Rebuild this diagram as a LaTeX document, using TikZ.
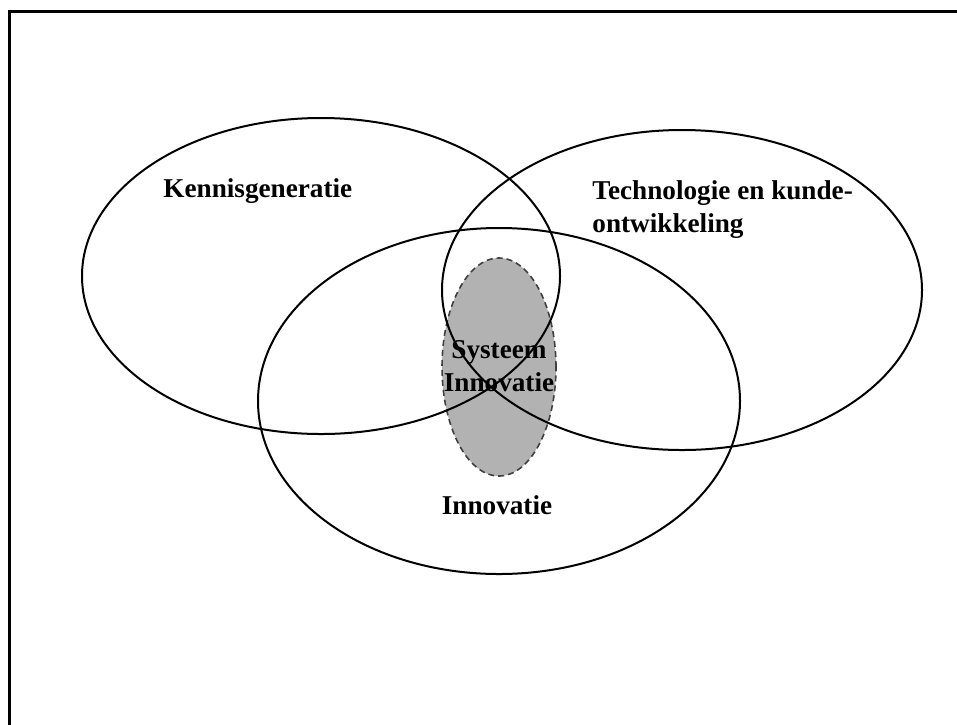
\documentclass[tikz,border=0pt]{standalone}
\usepackage{fontspec}
\setmainfont{Liberation Serif}
\usetikzlibrary{shapes.geometric,positioning}
\tikzset{%
  every set/.style={
    ellipse,
    draw,
    line width=1pt,
    inner sep=0pt
  },
  set label/.style={
    font=\fontsize{13.6}{16.5}\selectfont\bfseries,
    inner sep=0pt
  },
}

\begin{document}
\begin{tikzpicture}[x=0.5pt, y=-0.5pt]
        \useasboundingbox (0,0) rectangle (957,724);
        \draw [line width=1.5pt] (9.5,760) -- (9.5,11.5) -- (1000,11.5);

        \node [ellipse, fill=black!30, draw=black!75, densely dashed, line width=0.8pt,
               minimum width=57pt, minimum height=109pt, inner sep=0pt] (systeem) at (499,367) {};
        \node [every set, minimum width=239pt, minimum height=158pt] (kennis) at (321,276) {};
        \node [every set, minimum width=240pt, minimum height=160pt] (techno) at (682,290) {};
        \node [every set, minimum width=241pt, minimum height=173pt] (innov) at (499,401) {};

        \node [set label, anchor=west] at (163,191) {Kennisgeneratie};
        \node [set label, anchor=north west, align=left] at (592,180) {Technologie en kunde-\\ontwikkeling};
        \node [set label, align=center] at (499,366) {Systeem\\Innovatie};
        \node [set label] at (497,505) {Innovatie};
\end{tikzpicture}
\end{document}
